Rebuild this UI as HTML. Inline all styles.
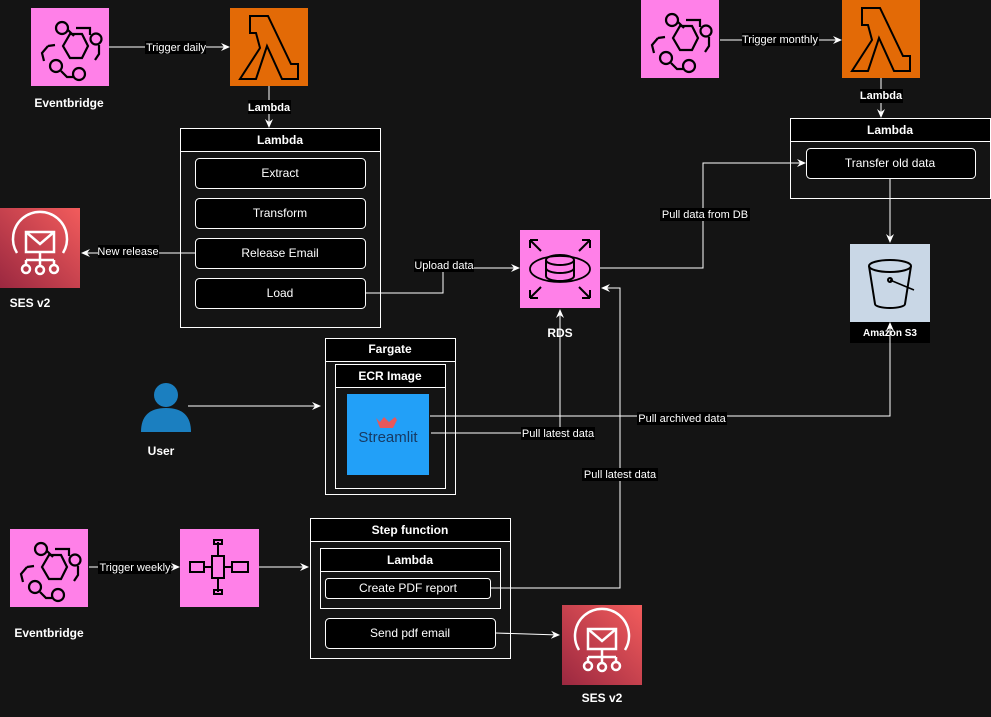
<!DOCTYPE html>
<html><head><meta charset="utf-8"><style>
html,body{margin:0;padding:0;background:#141414;}
svg{display:block;font-family:"Liberation Sans",Arial,sans-serif;}
</style></head><body>
<svg width="991" height="717" viewBox="0 0 991 717" xmlns="http://www.w3.org/2000/svg">
<defs>
<marker id="a" markerWidth="10" markerHeight="10" refX="8" refY="5" orient="auto" markerUnits="userSpaceOnUse"><path d="M0,1 L9,5 L0,9 L3,5 Z" fill="#fff"/></marker>
<linearGradient id="ses" x1="0" y1="1" x2="1" y2="0"><stop offset="0" stop-color="#9b2840"/><stop offset="1" stop-color="#f25c5c"/></linearGradient>
<g id="eb">
<rect width="78" height="78" fill="#ff80e8"/>
<g fill="none" stroke="#000" stroke-width="2.2">
<polygon points="32,38 39,26 51,26 57,38 51,50 39,50"/>
<circle cx="31" cy="20" r="6"/><circle cx="48" cy="66" r="6"/><circle cx="65" cy="31" r="5.5"/><circle cx="25" cy="58" r="6"/>
<path d="M37,22 L43,28 M45,20 L59,20 L59,27 M68,37 L68,46 L64,52 M17,38 L11,45 L13,53 M30,63 L36,69 L42,69 M24,37 L17,38"/>
</g></g>
<g id="lam">
<rect width="78" height="78" fill="#e36a06"/>
<path d="M20,8 L38,8 L61,56 L68,56 L68,71 L52,71 L37,38 L26,71 L10,71 L30,40 L26,25 L20,25 Z M40,8" fill="none" stroke="#000" stroke-width="2"/>
</g>
<g id="sesg">
<rect width="80" height="80" fill="url(#ses)"/>
<g fill="none" stroke="#fff" stroke-width="2.5">
<path d="M17,45 A27,27 0 1 1 63,45"/>
<rect x="26" y="24" width="28" height="20"/><path d="M26,24 L40,36 L54,24"/>
<path d="M40,44 L40,52 M26,52 L54,52 M26,52 L26,57 M54,52 L54,57 M40,52 L40,57"/>
<circle cx="26" cy="61" r="4"/><circle cx="40" cy="62" r="4"/><circle cx="54" cy="61" r="4"/>
</g></g>
</defs>

<g font-size="11" fill="#fff">
<!-- top-left -->
<use href="#eb" x="31" y="8"/>
<text x="69" y="107" text-anchor="middle" font-weight="bold" font-size="12">Eventbridge</text>
<use href="#lam" x="230" y="8"/>
<line x1="109" y1="47" x2="229" y2="47" stroke="#fff" marker-end="url(#a)"/>
<rect x="145" y="41" width="61" height="13" fill="#000"/><text x="176" y="51" text-anchor="middle">Trigger daily</text>
<line x1="269" y1="86" x2="269" y2="127" stroke="#fff" marker-end="url(#a)"/>
<rect x="248" y="100" width="43" height="14" fill="#000"/><text x="269" y="111" text-anchor="middle" font-weight="bold">Lambda</text>

<rect x="180.5" y="128.5" width="200" height="199" fill="none" stroke="#fff"/>
<rect x="181" y="129" width="199" height="22" fill="#000"/><line x1="180" y1="151.5" x2="381" y2="151.5" stroke="#fff"/>
<text x="280" y="144" text-anchor="middle" font-weight="bold" font-size="12">Lambda</text>
<g fill="#000" stroke="#fff"><rect x="195.5" y="158.5" width="170" height="30" rx="4"/><rect x="195.5" y="198.5" width="170" height="30" rx="4"/><rect x="195.5" y="238.5" width="170" height="30" rx="4"/><rect x="195.5" y="278.5" width="170" height="30" rx="4"/></g>
<g font-size="12" text-anchor="middle"><text x="280" y="177">Extract</text><text x="280" y="217">Transform</text><text x="280" y="257">Release Email</text><text x="280" y="297">Load</text></g>

<use href="#sesg" x="0" y="208"/>
<text x="30" y="307" text-anchor="middle" font-weight="bold" font-size="12">SES v2</text>
<line x1="195" y1="253" x2="82" y2="253" stroke="#fff" marker-end="url(#a)"/>
<rect x="98" y="245" width="61" height="13" fill="#000"/><text x="128" y="255" text-anchor="middle">New release</text>

<polyline points="365,293 443,293 443,268 519,268" fill="none" stroke="#fff" marker-end="url(#a)"/>
<rect x="414" y="259" width="60" height="13" fill="#000"/><text x="444" y="269" text-anchor="middle">Upload data</text>

<!-- RDS -->
<rect x="520" y="230" width="80" height="78" fill="#ff80e8"/>
<g fill="none" stroke="#000" stroke-width="2">
<ellipse cx="560" cy="260" rx="14" ry="5"/><path d="M546,260 L546,276 A14,5 0 0 0 574,276 L574,260 M546,268 A14,5 0 0 0 574,268"/>
<ellipse cx="560" cy="269" rx="30" ry="13" stroke-width="1.8"/>
<path d="M530,240 L541,251 M530,240 L538,240 M530,240 L530,248 M590,240 L579,251 M590,240 L582,240 M590,240 L590,248 M530,298 L541,287 M530,298 L538,298 M530,298 L530,290 M590,298 L579,287 M590,298 L582,298 M590,298 L590,290"/>
</g>
<text x="560" y="337" text-anchor="middle" font-weight="bold" font-size="12">RDS</text>

<polyline points="600,268 703,268 703,163 805,163" fill="none" stroke="#fff" marker-end="url(#a)"/>
<rect x="660" y="208" width="90" height="13" fill="#000"/><text x="705" y="218" text-anchor="middle">Pull data from DB</text>

<!-- top-right -->
<use href="#eb" x="641" y="0"/>
<use href="#lam" x="842" y="0"/>
<line x1="720" y1="40" x2="841" y2="40" stroke="#fff" marker-end="url(#a)"/>
<rect x="742" y="33" width="77" height="13" fill="#000"/><text x="780" y="43" text-anchor="middle">Trigger monthly</text>
<line x1="881" y1="78" x2="881" y2="117" stroke="#fff" marker-end="url(#a)"/>
<rect x="860" y="89" width="43" height="14" fill="#000"/><text x="881" y="99" text-anchor="middle" font-weight="bold">Lambda</text>
<rect x="790.5" y="118.5" width="200" height="80" fill="none" stroke="#fff"/>
<rect x="791" y="119" width="199" height="22" fill="#000"/><line x1="790" y1="141.5" x2="991" y2="141.5" stroke="#fff"/>
<text x="890" y="134" text-anchor="middle" font-weight="bold" font-size="12">Lambda</text>
<rect x="806.5" y="148.5" width="169" height="30" rx="4" fill="#000" stroke="#fff"/>
<text x="890" y="167" text-anchor="middle" font-size="12">Transfer old data</text>
<line x1="890" y1="178" x2="890" y2="242" stroke="#fff" marker-end="url(#a)"/>

<!-- S3 -->
<rect x="850" y="244" width="80" height="78" fill="#c9d7e6"/>
<g fill="none" stroke="#000" stroke-width="2"><ellipse cx="890" cy="266" rx="21" ry="6"/><path d="M869,266 L875,304 A15,4 0 0 0 905,304 L911,266"/><path d="M890,280 L914,290" stroke-width="1.5"/><circle cx="890" cy="280" r="2"/></g>
<rect x="850" y="322" width="80" height="21" fill="#000"/>
<text x="890" y="336" text-anchor="middle" font-weight="bold" font-size="10">Amazon S3</text>

<!-- Fargate -->
<rect x="325.5" y="338.5" width="130" height="156" fill="none" stroke="#fff"/>
<rect x="326" y="339" width="129" height="22" fill="#000"/><line x1="325" y1="361.5" x2="456" y2="361.5" stroke="#fff"/>
<text x="390" y="353" text-anchor="middle" font-weight="bold" font-size="12">Fargate</text>
<rect x="335.5" y="364.5" width="110" height="124" fill="none" stroke="#fff"/>
<rect x="336" y="365" width="109" height="22" fill="#000"/><line x1="335" y1="387.5" x2="446" y2="387.5" stroke="#fff"/>
<text x="390" y="380" text-anchor="middle" font-weight="bold" font-size="12">ECR Image</text>
<rect x="347" y="394" width="82" height="81" fill="#22a0f8"/>
<path d="M376,418 L380,422 L384,417 L389,422 L395,417 L397,420 L393,428 L380,428 Z" fill="#e8585a"/>
<text x="388" y="442" text-anchor="middle" font-size="15" fill="#173a63">Streamlit</text>

<!-- User -->
<circle cx="166" cy="395" r="12" fill="#1b7fc0"/>
<path d="M141,432 Q141,408 166,408 Q191,408 191,432 Z" fill="#1b7fc0"/>
<text x="161" y="455" text-anchor="middle" font-weight="bold" font-size="12">User</text>
<line x1="188" y1="406" x2="320" y2="406" stroke="#fff" marker-end="url(#a)"/>

<polyline points="430,416 890,416 890,323" fill="none" stroke="#fff" marker-end="url(#a)"/>
<rect x="637" y="412" width="90" height="13" fill="#000"/><text x="682" y="422" text-anchor="middle">Pull archived data</text>
<polyline points="431,433 560,433 560,310" fill="none" stroke="#fff" marker-end="url(#a)"/>
<rect x="521" y="427" width="74" height="13" fill="#000"/><text x="558" y="437" text-anchor="middle">Pull latest data</text>

<!-- bottom -->
<use href="#eb" x="10" y="529"/>
<text x="49" y="637" text-anchor="middle" font-weight="bold" font-size="12">Eventbridge</text>
<line x1="89" y1="567" x2="179" y2="567" stroke="#fff" marker-end="url(#a)"/>
<rect x="98" y="561" width="73" height="13" fill="#000"/><text x="135" y="571" text-anchor="middle">Trigger weekly</text>
<rect x="180" y="529" width="79" height="78" fill="#ff80e8"/>
<g fill="none" stroke="#000" stroke-width="2"><rect x="190" y="562" width="14" height="10"/><rect x="212" y="556" width="12" height="22"/><rect x="232" y="562" width="16" height="10"/><path d="M218,542 L218,556 M218,578 L218,592 M204,567 L212,567 M224,567 L232,567"/><rect x="214" y="540" width="8" height="4"/><rect x="214" y="590" width="8" height="4"/></g>
<line x1="259" y1="567" x2="308" y2="567" stroke="#fff" marker-end="url(#a)"/>

<rect x="310.5" y="518.5" width="200" height="140" fill="none" stroke="#fff"/>
<rect x="311" y="519" width="199" height="22" fill="#000"/><line x1="310" y1="541.5" x2="511" y2="541.5" stroke="#fff"/>
<text x="410" y="534" text-anchor="middle" font-weight="bold" font-size="12">Step function</text>
<rect x="320.5" y="548.5" width="180" height="60" fill="none" stroke="#fff"/>
<rect x="321" y="549" width="179" height="22" fill="#000"/><line x1="320" y1="571.5" x2="501" y2="571.5" stroke="#fff"/>
<text x="410" y="564" text-anchor="middle" font-weight="bold" font-size="12">Lambda</text>
<rect x="325.5" y="578.5" width="165" height="20" rx="3" fill="#000" stroke="#fff"/>
<text x="408" y="592" text-anchor="middle" font-size="12">Create PDF report</text>
<rect x="325.5" y="618.5" width="170" height="30" rx="4" fill="#000" stroke="#fff"/>
<text x="410" y="637" text-anchor="middle" font-size="12">Send pdf email</text>

<polyline points="490,588 620,588 620,288 602,288" fill="none" stroke="#fff" marker-end="url(#a)"/>
<rect x="582" y="468" width="76" height="13" fill="#000"/><text x="620" y="478" text-anchor="middle">Pull latest data</text>
<line x1="495" y1="633" x2="559" y2="635" stroke="#fff" marker-end="url(#a)"/>
<use href="#sesg" x="562" y="605"/>
<text x="602" y="702" text-anchor="middle" font-weight="bold" font-size="12">SES v2</text>
</g>
</svg>
</body></html>
